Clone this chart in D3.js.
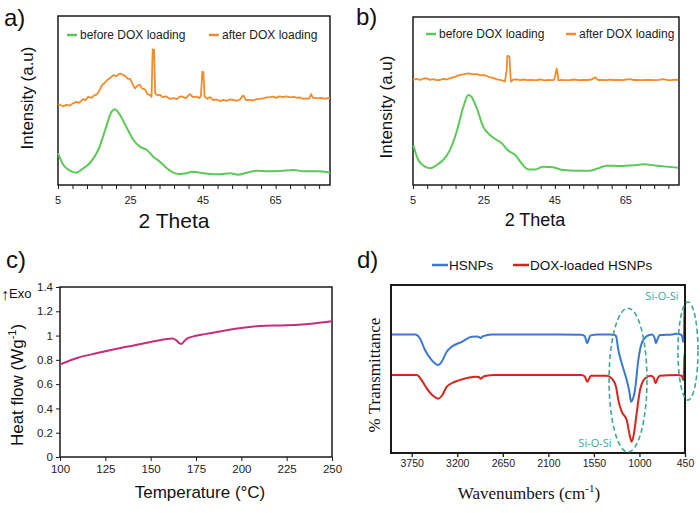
<!DOCTYPE html>
<html><head><meta charset="utf-8">
<script src="https://cdn.jsdelivr.net/npm/d3@7"></script>
<style>body{margin:0;background:#fff}svg{display:block}</style>
</head><body>
<script>
// ---------- DATA ----------
const xrdTickLabels = [5, 25, 45, 65];
// Panel a (XRD)
const aBefore = [[5,18.9],[6.5,11.8],[8.3,8.5],[10,7.3],[12,9.9],[13.8,13.0],[16.1,20.7],[18,32.5],[19.8,43.4],[20.7,44.8],[22.1,41.4],[24,33.7],[25.8,26.6],[27.6,22.7],[29.5,20.7],[31.3,16.7],[33.1,13.8],[35,9.9],[36.8,7.3],[38.2,6.5],[40.5,6.9],[41.9,7.9],[44.2,7.3],[47,6.5],[49.7,6.3],[52.4,6.9],[54.7,6.1],[57,7.3],[59.8,8.5],[62.6,8.1],[66.2,8.3],[69.9,8.9],[72.7,8.1],[76.4,8.1],[80,7.3]];
const aAfter = [[5,48.0],[5.8,47.2],[6.5,46.6],[7.3,47.4],[8.3,47.0],[9.1,48.3],[10.1,49.2],[10.8,48.6],[11.9,50.8],[12.6,50.2],[13.3,52.2],[14.2,51.6],[15.0,53.0],[15.7,53.6],[16.4,56.0],[17.1,59.0],[17.8,60.2],[18.5,62.0],[19.3,63.2],[20.3,65.0],[21.0,64.4],[22.1,66.0],[23.0,65.2],[23.5,64.5],[24.2,63.0],[24.9,62.8],[25.5,60.0],[26.2,57.2],[26.9,58.8],[27.6,59.2],[28.2,57.0],[29.0,56.6],[29.6,54.0],[30.3,53.3],[30.8,52.2],[31.1,80.3],[31.5,80.0],[31.8,54.2],[32.4,53.0],[33.1,53.4],[33.8,52.0],[34.9,52.4],[35.8,51.0],[36.8,51.4],[37.8,50.8],[38.5,52.2],[39.1,52.4],[40.2,51.4],[41.4,53.8],[42.2,52.0],[43.2,52.3],[44.0,51.4],[44.4,52.8],[44.8,67.0],[45.1,66.8],[45.4,52.3],[46.2,51.0],[46.9,52.0],[47.8,50.2],[48.7,50.6],[49.8,49.6],[50.6,50.4],[51.5,49.8],[52.4,50.6],[53.3,50.3],[54.3,49.8],[55.2,50.6],[55.8,52.6],[56.2,52.8],[56.8,50.2],[57.8,50.4],[58.8,50.0],[59.7,50.8],[60.6,50.9],[61.6,51.2],[62.5,51.8],[63.4,52.0],[64.3,52.3],[65.2,51.6],[66.1,52.4],[67.0,52.0],[68.0,52.4],[69.0,51.8],[70.0,52.2],[71.0,51.6],[71.6,51.9],[72.6,51.0],[73.4,51.3],[74.2,51.0],[74.8,53.8],[75.3,51.6],[75.7,51.5],[76.6,51.2],[77.6,51.6],[78.6,51.0],[79.4,51.4],[80,51.3]];
// Panel b (XRD)
const bBefore = [[5.1,23.7],[6.5,14.9],[8.4,10.9],[9.8,9.9],[11.7,11.9],[13.5,14.9],[15.4,20.8],[17.3,31.7],[19.2,46.6],[20.6,53.6],[21.5,52.5],[23.0,45.6],[24.8,34.7],[26.7,29.8],[28.6,26.8],[30.0,24.8],[31.9,20.4],[33.8,17.9],[35.6,12.9],[37.5,9.3],[39.4,9.3],[41.7,10.9],[44.5,10.5],[47.4,8.9],[51.1,8.5],[54.9,8.5],[57.2,9.9],[59.6,11.5],[63.4,11.3],[67.1,11.7],[69.9,12.3],[73.7,11.5],[79.8,10.3]];
const bAfter = [[5,62.5],[6,63.2],[7,62.6],[8,63.4],[8.9,63.5],[9.8,62.6],[10.7,63.0],[11.6,62.4],[12.6,62.5],[13.5,63.2],[14.4,62.8],[15.4,63.5],[16.3,64.0],[17.3,64.8],[18.3,65.5],[19.3,65.8],[20.6,66.5],[21.8,66.0],[23.0,66.0],[24.0,65.2],[25.0,65.4],[25.8,64.9],[26.8,64.0],[27.6,63.8],[28.6,62.9],[29.5,62.6],[30.3,62.2],[30.9,61.5],[31.4,68],[31.6,76.8],[32.2,76.6],[32.4,68],[32.6,61.5],[33.3,62.8],[34.2,62.9],[35.2,62.4],[36.2,62.8],[37.2,62.4],[38.2,62.6],[39.1,62.4],[40.0,62.5],[41.0,62.8],[42.0,62.3],[43.0,62.6],[44.0,62.4],[44.8,62.6],[45.2,66],[45.5,69.4],[45.8,66],[46.0,62.3],[47.0,62.6],[48.0,62.4],[49.3,62.5],[50.5,62.8],[51.7,62.4],[53.0,62.6],[54.2,62.5],[55.4,62.8],[56.3,64.1],[57.2,62.5],[58.3,62.6],[59.4,62.4],[60.5,62.7],[61.6,62.5],[62.8,62.6],[64.0,62.4],[65.1,62.8],[66.2,63.0],[67.3,62.5],[68.5,62.6],[69.6,62.4],[70.8,62.6],[72.0,62.5],[73.2,62.4],[74.4,62.6],[75.6,63.0],[76.8,62.4],[78.0,62.5],[79.0,62.7],[79.8,62.5]];
const xrdLegend = ["before DOX loading", "after DOX loading"];
// Panel c (DSC)
const dscTemp = [100,110,120,130,140,150,158,162,164,166,167,168,170,175,185,200,210,225,240,250];
const dscHeat = [0.763,0.818,0.854,0.887,0.917,0.947,0.970,0.975,0.962,0.936,0.930,0.945,0.975,0.998,1.025,1.062,1.078,1.085,1.100,1.118];
const dscXTicks = [100,125,150,175,200,225,250];
const dscYTicks = [0,0.2,0.4,0.6,0.8,1,1.2,1.4];
// Panel d (FTIR)
const ftirHSNP = [[4000,70.6],[3800,70.6],[3710,70.6],[3650,68.2],[3590,61.3],[3509,55.3],[3460,53],[3436,52.4],[3410,53],[3388,54.3],[3327,60.3],[3267,63.2],[3146,66.2],[3026,69.2],[2960,69.4],[2930,68.8],[2917,68.4],[2900,69.2],[2885,69.6],[2784,70.6],[2400,70.6],[2000,70.6],[1700,70.4],[1660,69.5],[1630,65.3],[1610,68],[1590,70],[1500,70.6],[1356,70.6],[1300,70.2],[1283,69.6],[1255,61.3],[1214,53.4],[1154,43.4],[1120,36],[1102,30.5],[1085,31.5],[1054,37.5],[1014,55.3],[973,65.3],[912,69.6],[852,70.6],[820,69],[800,65.3],[780,68],[752,70.2],[600,70.6],[550,71],[490,70.2],[470,66.0],[462,72],[458,83],[450,88]];
const ftirDOX = [[4000,46.4],[3690,46.4],[3630,43.4],[3569,38.5],[3489,33.9],[3429,32.3],[3380,34.5],[3327,39.5],[3227,42.4],[3106,44.4],[2986,45.4],[2940,45.2],[2917,44.2],[2890,45.2],[2865,45.8],[2744,46.4],[2000,46.4],[1700,46.4],[1660,45.5],[1630,42.4],[1605,44.5],[1585,46],[1396,46],[1335,44.4],[1283,39.5],[1255,31.5],[1214,24.6],[1154,19.6],[1114,9.7],[1094,6.7],[1066,11.7],[1034,23.6],[993,37.5],[933,44.4],[864,46],[830,45],[804,41.5],[780,44.5],[752,46],[550,46.4],[490,46],[470,43.4],[460,52],[456,59.3],[450,57]];
const ftirTicks = [3750,3200,2650,2100,1550,1000,450];
const ftirLegend = ["HSNPs", "DOX-loaded HSNPs"];
// annotation ellipses (wavenumber centre, half-width, value centre, half-height)
const ftirEllipses = [{wn:1138, dwn:229, v:43.4, dv:42.8}, {wn:414, dwn:121, v:60.7, dv:29.2}];
const ftirNotes = [{wn:728, v:91, text:"Si-O-Si"}, {wn:1537, v:3.6, text:"Si-O-Si"}];

// ---------- DRAW ----------
const W = 700, H = 513;
const svg = d3.select("body").append("svg").attr("width", W).attr("height", H)
  .style("font-family", "'Liberation Sans', Arial, sans-serif");
svg.append("rect").attr("width", W).attr("height", H).attr("fill", "#fff");

const GREEN = "#5cc859", ORANGE = "#f08c2c", BLUE = "#3b78cf", RED = "#d2261f", MAG = "#c2307c", TEAL = "#3ea795";

function frame(g, x0, x1, y0, y1, sw) {
  g.append("rect").attr("x", x0).attr("y", y0).attr("width", x1 - x0).attr("height", y1 - y0)
    .attr("fill", "none").attr("stroke", "#1a1a1a").attr("stroke-width", sw);
}

function xrdPanel(opt) {
  const g = svg.append("g");
  const x = d3.scaleLinear().domain([5, 80]).range([opt.x0, opt.x1]);
  const y = d3.scaleLinear().domain([0, 100]).range([opt.y1, opt.y0]);
  const ax = g.append("g").attr("transform", `translate(0,${opt.y1})`)
    .call(d3.axisBottom(x).tickValues(d3.range(5, 81, 4)).tickSize(4).tickFormat(""));
  ax.select(".domain").remove();
  ax.selectAll("line").attr("stroke", "#1a1a1a").attr("stroke-width", 1);
  g.append("g").selectAll("text").data(xrdTickLabels).join("text")
    .attr("x", d => x(d)).attr("y", opt.y1 + 19).attr("text-anchor", "middle")
    .attr("font-size", 11).attr("fill", "#222").text(d => d);
  frame(g, opt.x0, opt.x1, opt.y0, opt.y1, 1.5);
  g.append("path").datum(opt.before).attr("d", d3.line().x(d => x(d[0])).y(d => y(d[1])).curve(d3.curveMonotoneX))
    .attr("fill", "none").attr("stroke", GREEN).attr("stroke-width", 2);
  g.append("path").datum(opt.after).attr("d", d3.line().x(d => x(d[0])).y(d => y(d[1])))
    .attr("fill", "none").attr("stroke", ORANGE).attr("stroke-width", 1.8).attr("stroke-linejoin", "round");
  const cols = [GREEN, ORANGE];
  opt.leg.forEach((lx, i) => {
    g.append("line").attr("x1", lx).attr("x2", lx + 10).attr("y1", opt.legY - 4).attr("y2", opt.legY - 4)
      .attr("stroke", cols[i]).attr("stroke-width", 2.5);
    g.append("text").attr("x", lx + 13).attr("y", opt.legY).attr("font-size", 12).attr("fill", "#222")
      .text(xrdLegend[i]);
  });
  g.append("text").attr("x", opt.tx).attr("y", opt.ty).attr("text-anchor", "middle")
    .attr("font-size", opt.tfs).attr("fill", "#111").text("2 Theta");
  g.append("text").attr("transform", `translate(${opt.yx},${opt.yy}) rotate(-90)`)
    .attr("text-anchor", "middle").attr("font-size", 17).attr("fill", "#111").text("Intensity (a.u)");
  g.append("text").attr("x", opt.lx).attr("y", opt.ly).attr("font-size", 24).attr("fill", "#111").text(opt.label);
}

xrdPanel({x0: 58, x1: 330, y0: 16, y1: 185, before: aBefore, after: aAfter, leg: [67, 209], legY: 39,
  tx: 174, ty: 228, tfs: 21, yx: 33, yy: 98, lx: 4, ly: 26, label: "a)"});
xrdPanel({x0: 413, x1: 679, y0: 17, y1: 185, before: bBefore, after: bAfter, leg: [426, 566], legY: 38,
  tx: 535, ty: 226, tfs: 18, yx: 392, yy: 107, lx: 356, ly: 25, label: "b)"});

// ---------- Panel c ----------
(function () {
  const g = svg.append("g");
  const x0 = 60, x1 = 332, y0 = 287, y1 = 457;
  const x = d3.scaleLinear().domain([100, 250]).range([x0, x1]);
  const y = d3.scaleLinear().domain([0, 1.4]).range([y1, y0]);
  const ax = g.append("g").attr("transform", `translate(0,${y1})`)
    .call(d3.axisBottom(x).tickValues(dscXTicks).tickSize(4).tickPadding(4).tickFormat(d3.format("d")));
  const ay = g.append("g").attr("transform", `translate(${x0},0)`)
    .call(d3.axisLeft(y).tickValues(dscYTicks).tickSize(4).tickPadding(3).tickFormat(d => d3.format("~g")(d)));
  [ax, ay].forEach(a => {
    a.select(".domain").remove();
    a.selectAll("line").attr("stroke", "#1a1a1a");
    a.selectAll("text").attr("font-size", 11.5).attr("fill", "#222").attr("font-family", "'Liberation Sans', Arial, sans-serif");
  });
  frame(g, x0, x1, y0, y1, 1.5);
  const pts = dscTemp.map((t, i) => [t, dscHeat[i]]);
  g.append("path").datum(pts).attr("d", d3.line().x(d => x(d[0])).y(d => y(d[1])).curve(d3.curveMonotoneX))
    .attr("fill", "none").attr("stroke", MAG).attr("stroke-width", 2);
  g.append("text").attr("x", 200).attr("y", 498).attr("text-anchor", "middle").attr("font-size", 17)
    .attr("fill", "#111").text("Temperature (°C)");
  const yl = g.append("text").attr("transform", "translate(23,385) rotate(-90)").attr("text-anchor", "middle")
    .attr("font-size", 17).attr("fill", "#111");
  yl.append("tspan").text("Heat flow (Wg");
  yl.append("tspan").attr("font-size", 11).attr("dy", -7).text("-1");
  yl.append("tspan").attr("dy", 7).text(")");
  const ex = g.append("text").attr("x", 1).attr("y", 300).attr("fill", "#111");
  ex.append("tspan").attr("font-size", 16).text("↑");
  ex.append("tspan").attr("font-size", 13).attr("dy", -2).text("Exo");
  g.append("text").attr("x", 6).attr("y", 268).attr("font-size", 24).attr("fill", "#111").text("c)");
})();

// ---------- Panel d ----------
(function () {
  const g = svg.append("g");
  const x0 = 391, x1 = 685, y0 = 285, y1 = 453;
  const x = d3.scaleLinear().domain([4000, 450]).range([x0, x1]);
  const y = d3.scaleLinear().domain([0, 100]).range([y1, y0]);
  const ax = g.append("g").attr("transform", `translate(0,${y1})`)
    .call(d3.axisBottom(x).tickValues(ftirTicks).tickSize(4).tickPadding(3).tickFormat(d3.format("d")));
  ax.select(".domain").remove();
  ax.selectAll("line").attr("stroke", "#1a1a1a").attr("stroke-width", 1.3);
  ax.selectAll("text").attr("font-size", 10.5).attr("fill", "#222").attr("font-family", "'Liberation Sans', Arial, sans-serif");
  const line = d3.line().x(d => x(d[0])).y(d => y(d[1])).curve(d3.curveMonotoneX);
  g.append("path").datum(ftirHSNP).attr("d", line).attr("fill", "none").attr("stroke", BLUE).attr("stroke-width", 2);
  g.append("path").datum(ftirDOX).attr("d", line).attr("fill", "none").attr("stroke", RED).attr("stroke-width", 2);
  frame(g, x0, x1, y0, y1, 2);
  g.selectAll("ellipse").data(ftirEllipses).join("ellipse")
    .attr("cx", d => x(d.wn)).attr("cy", d => y(d.v))
    .attr("rx", d => Math.abs(x(d.wn + d.dwn) - x(d.wn))).attr("ry", d => Math.abs(y(d.v + d.dv) - y(d.v)))
    .attr("fill", "none").attr("stroke", TEAL).attr("stroke-width", 1.6).attr("stroke-dasharray", "5,3");
  g.selectAll("text.note").data(ftirNotes).join("text").attr("class", "note")
    .attr("x", d => x(d.wn)).attr("y", d => y(d.v)).attr("text-anchor", "middle")
    .attr("font-size", 11).attr("fill", TEAL).attr("font-family", "'Open Sans', sans-serif").text(d => d.text);
  const lcol = [BLUE, RED], lx = [432, 513];
  ftirLegend.forEach((t, i) => {
    g.append("line").attr("x1", lx[i]).attr("x2", lx[i] + 16).attr("y1", 265).attr("y2", 265)
      .attr("stroke", lcol[i]).attr("stroke-width", 2.5);
    g.append("text").attr("x", lx[i] + 17).attr("y", 270).attr("font-size", 13.5).attr("fill", "#111").text(t);
  });
  const xl = g.append("text").attr("x", 529).attr("y", 499).attr("text-anchor", "middle")
    .attr("font-family", "'Liberation Serif', 'Times New Roman', serif").attr("font-size", 17).attr("fill", "#111");
  xl.append("tspan").text("Wavenumbers (cm");
  xl.append("tspan").attr("font-size", 11).attr("dy", -7).text("-1");
  xl.append("tspan").attr("dy", 7).text(")");
  g.append("text").attr("transform", "translate(380,375) rotate(-90)").attr("text-anchor", "middle")
    .attr("font-family", "'Liberation Serif', 'Times New Roman', serif").attr("font-size", 17).attr("fill", "#111")
    .text("% Transmittance");
  g.append("text").attr("x", 357).attr("y", 268).attr("font-size", 24).attr("fill", "#111").text("d)");
})();
</script>
</body></html>
